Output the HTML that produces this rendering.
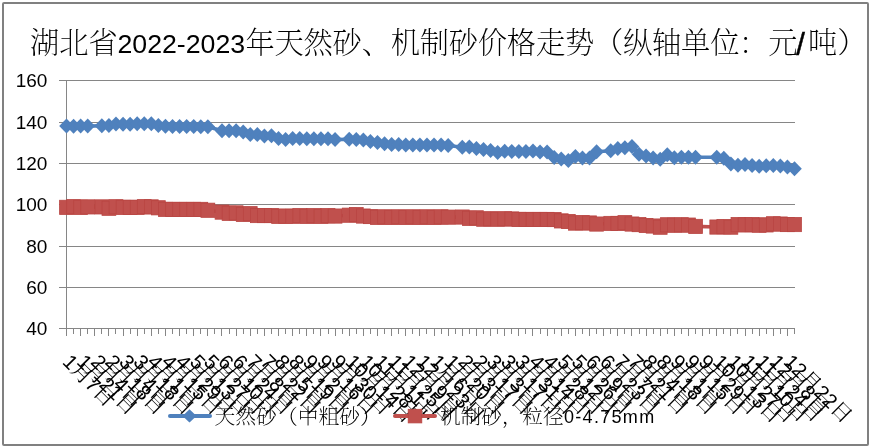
<!DOCTYPE html>
<html><head><meta charset="utf-8"><style>
html,body{margin:0;padding:0;background:#fff;}
body{width:887px;height:448px;overflow:hidden;position:relative;}
#box{position:absolute;left:2px;top:2px;width:867px;height:444px;box-sizing:border-box;border:2px solid #808080;border-radius:2px;}
svg{position:absolute;left:0;top:0;}
</style></head><body>
<div id="box"></div>
<svg width="887" height="448" viewBox="0 0 887 448">
<g id="title" fill="#000">
<text x="30" y="53.3" font-family="Liberation Serif, Noto Serif CJK SC, serif" font-weight="200" font-size="29.3">湖北省</text>
<text x="117.5" y="52.9" font-family="Liberation Sans, sans-serif" font-size="26.7">2022-2023</text>
<text x="245.5" y="53.3" font-family="Liberation Serif, Noto Serif CJK SC, serif" font-weight="200" font-size="29.3" textLength="552" lengthAdjust="spacing">年天然砂、机制砂价格走势（纵轴单位：元</text>
<text x="796.2" y="55.4" font-family="Liberation Sans, sans-serif" font-size="31" stroke="#000" stroke-width="0.5">/</text>
<text x="808" y="53.3" font-family="Liberation Serif, Noto Serif CJK SC, serif" font-weight="200" font-size="29.3">吨）</text>
</g>
<g id="chart">
<line x1="59" y1="80.5" x2="795" y2="80.5" stroke="#868686" stroke-width="1"/>
<line x1="59" y1="122.5" x2="795" y2="122.5" stroke="#868686" stroke-width="1"/>
<line x1="59" y1="163.5" x2="795" y2="163.5" stroke="#868686" stroke-width="1"/>
<line x1="59" y1="204.5" x2="795" y2="204.5" stroke="#868686" stroke-width="1"/>
<line x1="59" y1="246.5" x2="795" y2="246.5" stroke="#868686" stroke-width="1"/>
<line x1="59" y1="287.5" x2="795" y2="287.5" stroke="#868686" stroke-width="1"/>
<line x1="59" y1="328.5" x2="795" y2="328.5" stroke="#868686" stroke-width="1"/>
<line x1="66.5" y1="80" x2="66.5" y2="329" stroke="#868686" stroke-width="1"/>
<line x1="66.5" y1="328" x2="66.5" y2="336.0" stroke="#868686" stroke-width="1"/>
<line x1="73.5" y1="328" x2="73.5" y2="334.0" stroke="#868686" stroke-width="1"/>
<line x1="80.5" y1="328" x2="80.5" y2="336.0" stroke="#868686" stroke-width="1"/>
<line x1="87.5" y1="328" x2="87.5" y2="334.0" stroke="#868686" stroke-width="1"/>
<line x1="94.5" y1="328" x2="94.5" y2="336.0" stroke="#868686" stroke-width="1"/>
<line x1="101.5" y1="328" x2="101.5" y2="334.0" stroke="#868686" stroke-width="1"/>
<line x1="108.5" y1="328" x2="108.5" y2="336.0" stroke="#868686" stroke-width="1"/>
<line x1="115.5" y1="328" x2="115.5" y2="334.0" stroke="#868686" stroke-width="1"/>
<line x1="123.5" y1="328" x2="123.5" y2="336.0" stroke="#868686" stroke-width="1"/>
<line x1="130.5" y1="328" x2="130.5" y2="334.0" stroke="#868686" stroke-width="1"/>
<line x1="137.5" y1="328" x2="137.5" y2="336.0" stroke="#868686" stroke-width="1"/>
<line x1="144.5" y1="328" x2="144.5" y2="334.0" stroke="#868686" stroke-width="1"/>
<line x1="151.5" y1="328" x2="151.5" y2="336.0" stroke="#868686" stroke-width="1"/>
<line x1="158.5" y1="328" x2="158.5" y2="334.0" stroke="#868686" stroke-width="1"/>
<line x1="165.5" y1="328" x2="165.5" y2="336.0" stroke="#868686" stroke-width="1"/>
<line x1="172.5" y1="328" x2="172.5" y2="334.0" stroke="#868686" stroke-width="1"/>
<line x1="179.5" y1="328" x2="179.5" y2="336.0" stroke="#868686" stroke-width="1"/>
<line x1="186.5" y1="328" x2="186.5" y2="334.0" stroke="#868686" stroke-width="1"/>
<line x1="193.5" y1="328" x2="193.5" y2="336.0" stroke="#868686" stroke-width="1"/>
<line x1="200.5" y1="328" x2="200.5" y2="334.0" stroke="#868686" stroke-width="1"/>
<line x1="207.5" y1="328" x2="207.5" y2="336.0" stroke="#868686" stroke-width="1"/>
<line x1="214.5" y1="328" x2="214.5" y2="334.0" stroke="#868686" stroke-width="1"/>
<line x1="221.5" y1="328" x2="221.5" y2="336.0" stroke="#868686" stroke-width="1"/>
<line x1="229.5" y1="328" x2="229.5" y2="334.0" stroke="#868686" stroke-width="1"/>
<line x1="236.5" y1="328" x2="236.5" y2="336.0" stroke="#868686" stroke-width="1"/>
<line x1="243.5" y1="328" x2="243.5" y2="334.0" stroke="#868686" stroke-width="1"/>
<line x1="250.5" y1="328" x2="250.5" y2="336.0" stroke="#868686" stroke-width="1"/>
<line x1="257.5" y1="328" x2="257.5" y2="334.0" stroke="#868686" stroke-width="1"/>
<line x1="264.5" y1="328" x2="264.5" y2="336.0" stroke="#868686" stroke-width="1"/>
<line x1="271.5" y1="328" x2="271.5" y2="334.0" stroke="#868686" stroke-width="1"/>
<line x1="278.5" y1="328" x2="278.5" y2="336.0" stroke="#868686" stroke-width="1"/>
<line x1="285.5" y1="328" x2="285.5" y2="334.0" stroke="#868686" stroke-width="1"/>
<line x1="292.5" y1="328" x2="292.5" y2="336.0" stroke="#868686" stroke-width="1"/>
<line x1="299.5" y1="328" x2="299.5" y2="334.0" stroke="#868686" stroke-width="1"/>
<line x1="306.5" y1="328" x2="306.5" y2="336.0" stroke="#868686" stroke-width="1"/>
<line x1="313.5" y1="328" x2="313.5" y2="334.0" stroke="#868686" stroke-width="1"/>
<line x1="320.5" y1="328" x2="320.5" y2="336.0" stroke="#868686" stroke-width="1"/>
<line x1="328.5" y1="328" x2="328.5" y2="334.0" stroke="#868686" stroke-width="1"/>
<line x1="335.5" y1="328" x2="335.5" y2="336.0" stroke="#868686" stroke-width="1"/>
<line x1="342.5" y1="328" x2="342.5" y2="334.0" stroke="#868686" stroke-width="1"/>
<line x1="349.5" y1="328" x2="349.5" y2="336.0" stroke="#868686" stroke-width="1"/>
<line x1="356.5" y1="328" x2="356.5" y2="334.0" stroke="#868686" stroke-width="1"/>
<line x1="363.5" y1="328" x2="363.5" y2="336.0" stroke="#868686" stroke-width="1"/>
<line x1="370.5" y1="328" x2="370.5" y2="334.0" stroke="#868686" stroke-width="1"/>
<line x1="377.5" y1="328" x2="377.5" y2="336.0" stroke="#868686" stroke-width="1"/>
<line x1="384.5" y1="328" x2="384.5" y2="334.0" stroke="#868686" stroke-width="1"/>
<line x1="391.5" y1="328" x2="391.5" y2="336.0" stroke="#868686" stroke-width="1"/>
<line x1="398.5" y1="328" x2="398.5" y2="334.0" stroke="#868686" stroke-width="1"/>
<line x1="405.5" y1="328" x2="405.5" y2="336.0" stroke="#868686" stroke-width="1"/>
<line x1="412.5" y1="328" x2="412.5" y2="334.0" stroke="#868686" stroke-width="1"/>
<line x1="419.5" y1="328" x2="419.5" y2="336.0" stroke="#868686" stroke-width="1"/>
<line x1="426.5" y1="328" x2="426.5" y2="334.0" stroke="#868686" stroke-width="1"/>
<line x1="434.5" y1="328" x2="434.5" y2="336.0" stroke="#868686" stroke-width="1"/>
<line x1="441.5" y1="328" x2="441.5" y2="334.0" stroke="#868686" stroke-width="1"/>
<line x1="448.5" y1="328" x2="448.5" y2="336.0" stroke="#868686" stroke-width="1"/>
<line x1="455.5" y1="328" x2="455.5" y2="334.0" stroke="#868686" stroke-width="1"/>
<line x1="462.5" y1="328" x2="462.5" y2="336.0" stroke="#868686" stroke-width="1"/>
<line x1="469.5" y1="328" x2="469.5" y2="334.0" stroke="#868686" stroke-width="1"/>
<line x1="476.5" y1="328" x2="476.5" y2="336.0" stroke="#868686" stroke-width="1"/>
<line x1="483.5" y1="328" x2="483.5" y2="334.0" stroke="#868686" stroke-width="1"/>
<line x1="490.5" y1="328" x2="490.5" y2="336.0" stroke="#868686" stroke-width="1"/>
<line x1="497.5" y1="328" x2="497.5" y2="334.0" stroke="#868686" stroke-width="1"/>
<line x1="504.5" y1="328" x2="504.5" y2="336.0" stroke="#868686" stroke-width="1"/>
<line x1="511.5" y1="328" x2="511.5" y2="334.0" stroke="#868686" stroke-width="1"/>
<line x1="518.5" y1="328" x2="518.5" y2="336.0" stroke="#868686" stroke-width="1"/>
<line x1="525.5" y1="328" x2="525.5" y2="334.0" stroke="#868686" stroke-width="1"/>
<line x1="532.5" y1="328" x2="532.5" y2="336.0" stroke="#868686" stroke-width="1"/>
<line x1="540.5" y1="328" x2="540.5" y2="334.0" stroke="#868686" stroke-width="1"/>
<line x1="547.5" y1="328" x2="547.5" y2="336.0" stroke="#868686" stroke-width="1"/>
<line x1="554.5" y1="328" x2="554.5" y2="334.0" stroke="#868686" stroke-width="1"/>
<line x1="561.5" y1="328" x2="561.5" y2="336.0" stroke="#868686" stroke-width="1"/>
<line x1="568.5" y1="328" x2="568.5" y2="334.0" stroke="#868686" stroke-width="1"/>
<line x1="575.5" y1="328" x2="575.5" y2="336.0" stroke="#868686" stroke-width="1"/>
<line x1="582.5" y1="328" x2="582.5" y2="334.0" stroke="#868686" stroke-width="1"/>
<line x1="589.5" y1="328" x2="589.5" y2="336.0" stroke="#868686" stroke-width="1"/>
<line x1="596.5" y1="328" x2="596.5" y2="334.0" stroke="#868686" stroke-width="1"/>
<line x1="603.5" y1="328" x2="603.5" y2="336.0" stroke="#868686" stroke-width="1"/>
<line x1="610.5" y1="328" x2="610.5" y2="334.0" stroke="#868686" stroke-width="1"/>
<line x1="617.5" y1="328" x2="617.5" y2="336.0" stroke="#868686" stroke-width="1"/>
<line x1="624.5" y1="328" x2="624.5" y2="334.0" stroke="#868686" stroke-width="1"/>
<line x1="631.5" y1="328" x2="631.5" y2="336.0" stroke="#868686" stroke-width="1"/>
<line x1="639.5" y1="328" x2="639.5" y2="334.0" stroke="#868686" stroke-width="1"/>
<line x1="646.5" y1="328" x2="646.5" y2="336.0" stroke="#868686" stroke-width="1"/>
<line x1="653.5" y1="328" x2="653.5" y2="334.0" stroke="#868686" stroke-width="1"/>
<line x1="660.5" y1="328" x2="660.5" y2="336.0" stroke="#868686" stroke-width="1"/>
<line x1="667.5" y1="328" x2="667.5" y2="334.0" stroke="#868686" stroke-width="1"/>
<line x1="674.5" y1="328" x2="674.5" y2="336.0" stroke="#868686" stroke-width="1"/>
<line x1="681.5" y1="328" x2="681.5" y2="334.0" stroke="#868686" stroke-width="1"/>
<line x1="688.5" y1="328" x2="688.5" y2="336.0" stroke="#868686" stroke-width="1"/>
<line x1="695.5" y1="328" x2="695.5" y2="334.0" stroke="#868686" stroke-width="1"/>
<line x1="702.5" y1="328" x2="702.5" y2="336.0" stroke="#868686" stroke-width="1"/>
<line x1="709.5" y1="328" x2="709.5" y2="334.0" stroke="#868686" stroke-width="1"/>
<line x1="716.5" y1="328" x2="716.5" y2="336.0" stroke="#868686" stroke-width="1"/>
<line x1="723.5" y1="328" x2="723.5" y2="334.0" stroke="#868686" stroke-width="1"/>
<line x1="730.5" y1="328" x2="730.5" y2="336.0" stroke="#868686" stroke-width="1"/>
<line x1="737.5" y1="328" x2="737.5" y2="334.0" stroke="#868686" stroke-width="1"/>
<line x1="745.5" y1="328" x2="745.5" y2="336.0" stroke="#868686" stroke-width="1"/>
<line x1="752.5" y1="328" x2="752.5" y2="334.0" stroke="#868686" stroke-width="1"/>
<line x1="759.5" y1="328" x2="759.5" y2="336.0" stroke="#868686" stroke-width="1"/>
<line x1="766.5" y1="328" x2="766.5" y2="334.0" stroke="#868686" stroke-width="1"/>
<line x1="773.5" y1="328" x2="773.5" y2="336.0" stroke="#868686" stroke-width="1"/>
<line x1="780.5" y1="328" x2="780.5" y2="334.0" stroke="#868686" stroke-width="1"/>
<line x1="787.5" y1="328" x2="787.5" y2="336.0" stroke="#868686" stroke-width="1"/>
<line x1="794.5" y1="328" x2="794.5" y2="334.0" stroke="#868686" stroke-width="1"/>
<path d="M66.50 207.35 L73.57 206.70 L80.64 207.30 L87.70 206.90 L101.84 206.90 L108.91 208.25 L115.98 206.75 L123.04 207.30 L130.11 207.35 L137.18 207.35 L144.25 206.70 L151.32 206.90 L158.38 207.80 L165.45 209.35 L172.52 209.40 L179.59 209.40 L186.66 209.40 L193.72 209.40 L200.79 209.40 L207.86 210.25 L222.00 212.10 L229.06 213.30 L236.13 212.90 L243.20 214.40 L250.27 213.70 L257.33 215.55 L264.40 215.55 L271.47 215.55 L278.54 216.30 L285.61 216.10 L292.67 216.25 L299.74 215.65 L306.81 216.35 L313.88 215.65 L320.95 216.35 L328.01 215.65 L335.08 216.05 L349.22 215.20 L356.29 214.60 L363.35 216.05 L370.42 216.55 L377.49 217.35 L384.56 216.85 L391.63 217.35 L398.69 216.85 L405.76 217.35 L412.83 216.85 L419.90 217.35 L426.97 216.85 L434.03 217.35 L441.10 216.85 L448.17 217.15 L462.31 217.05 L469.37 218.35 L476.44 217.85 L483.51 219.20 L490.58 218.80 L497.65 219.20 L504.71 218.80 L511.78 219.00 L518.85 219.40 L525.92 219.45 L532.99 219.45 L540.05 219.45 L547.12 219.45 L554.19 219.55 L561.26 220.90 L568.33 221.50 L575.39 223.10 L582.46 222.70 L589.53 223.00 L596.60 224.05 L610.73 223.45 L617.80 223.45 L624.87 222.70 L631.94 224.05 L639.00 224.60 L646.07 225.50 L653.14 226.02 L660.21 227.20 L667.28 224.80 L674.34 225.20 L681.41 224.80 L688.48 225.10 L695.55 226.42 L716.75 227.05 L723.82 226.65 L730.89 227.15 L737.96 224.60 L745.02 224.90 L752.09 224.65 L759.16 225.20 L766.23 224.90 L773.30 223.80 L780.36 224.05 L787.43 224.55 L794.50 224.55" fill="none" stroke="#C0504D" stroke-width="3.6" stroke-linejoin="round" stroke-linecap="round"/>
<rect x="59.60" y="200.25" width="13.8" height="14.20" fill="#C0504D" stroke="#B94542" stroke-width="0.8"/>
<rect x="66.67" y="199.60" width="13.8" height="14.20" fill="#C0504D" stroke="#B94542" stroke-width="0.8"/>
<rect x="73.74" y="200.20" width="13.8" height="14.20" fill="#C0504D" stroke="#B94542" stroke-width="0.8"/>
<rect x="80.80" y="199.80" width="13.8" height="14.20" fill="#C0504D" stroke="#B94542" stroke-width="0.8"/>
<rect x="94.94" y="199.80" width="13.8" height="14.20" fill="#C0504D" stroke="#B94542" stroke-width="0.8"/>
<rect x="102.01" y="201.15" width="13.8" height="14.20" fill="#C0504D" stroke="#B94542" stroke-width="0.8"/>
<rect x="109.08" y="199.65" width="13.8" height="14.20" fill="#C0504D" stroke="#B94542" stroke-width="0.8"/>
<rect x="116.14" y="200.20" width="13.8" height="14.20" fill="#C0504D" stroke="#B94542" stroke-width="0.8"/>
<rect x="123.21" y="200.25" width="13.8" height="14.20" fill="#C0504D" stroke="#B94542" stroke-width="0.8"/>
<rect x="130.28" y="200.25" width="13.8" height="14.20" fill="#C0504D" stroke="#B94542" stroke-width="0.8"/>
<rect x="137.35" y="199.60" width="13.8" height="14.20" fill="#C0504D" stroke="#B94542" stroke-width="0.8"/>
<rect x="144.42" y="199.80" width="13.8" height="14.20" fill="#C0504D" stroke="#B94542" stroke-width="0.8"/>
<rect x="151.48" y="200.70" width="13.8" height="14.20" fill="#C0504D" stroke="#B94542" stroke-width="0.8"/>
<rect x="158.55" y="202.25" width="13.8" height="14.20" fill="#C0504D" stroke="#B94542" stroke-width="0.8"/>
<rect x="165.62" y="202.30" width="13.8" height="14.20" fill="#C0504D" stroke="#B94542" stroke-width="0.8"/>
<rect x="172.69" y="202.30" width="13.8" height="14.20" fill="#C0504D" stroke="#B94542" stroke-width="0.8"/>
<rect x="179.76" y="202.30" width="13.8" height="14.20" fill="#C0504D" stroke="#B94542" stroke-width="0.8"/>
<rect x="186.82" y="202.30" width="13.8" height="14.20" fill="#C0504D" stroke="#B94542" stroke-width="0.8"/>
<rect x="193.89" y="202.30" width="13.8" height="14.20" fill="#C0504D" stroke="#B94542" stroke-width="0.8"/>
<rect x="200.96" y="203.15" width="13.8" height="14.20" fill="#C0504D" stroke="#B94542" stroke-width="0.8"/>
<rect x="215.10" y="205.00" width="13.8" height="14.20" fill="#C0504D" stroke="#B94542" stroke-width="0.8"/>
<rect x="222.16" y="206.20" width="13.8" height="14.20" fill="#C0504D" stroke="#B94542" stroke-width="0.8"/>
<rect x="229.23" y="205.80" width="13.8" height="14.20" fill="#C0504D" stroke="#B94542" stroke-width="0.8"/>
<rect x="236.30" y="207.30" width="13.8" height="14.20" fill="#C0504D" stroke="#B94542" stroke-width="0.8"/>
<rect x="243.37" y="206.60" width="13.8" height="14.20" fill="#C0504D" stroke="#B94542" stroke-width="0.8"/>
<rect x="250.43" y="208.45" width="13.8" height="14.20" fill="#C0504D" stroke="#B94542" stroke-width="0.8"/>
<rect x="257.50" y="208.45" width="13.8" height="14.20" fill="#C0504D" stroke="#B94542" stroke-width="0.8"/>
<rect x="264.57" y="208.45" width="13.8" height="14.20" fill="#C0504D" stroke="#B94542" stroke-width="0.8"/>
<rect x="271.64" y="209.20" width="13.8" height="14.20" fill="#C0504D" stroke="#B94542" stroke-width="0.8"/>
<rect x="278.71" y="209.00" width="13.8" height="14.20" fill="#C0504D" stroke="#B94542" stroke-width="0.8"/>
<rect x="285.77" y="209.15" width="13.8" height="14.20" fill="#C0504D" stroke="#B94542" stroke-width="0.8"/>
<rect x="292.84" y="208.55" width="13.8" height="14.20" fill="#C0504D" stroke="#B94542" stroke-width="0.8"/>
<rect x="299.91" y="209.25" width="13.8" height="14.20" fill="#C0504D" stroke="#B94542" stroke-width="0.8"/>
<rect x="306.98" y="208.55" width="13.8" height="14.20" fill="#C0504D" stroke="#B94542" stroke-width="0.8"/>
<rect x="314.05" y="209.25" width="13.8" height="14.20" fill="#C0504D" stroke="#B94542" stroke-width="0.8"/>
<rect x="321.11" y="208.55" width="13.8" height="14.20" fill="#C0504D" stroke="#B94542" stroke-width="0.8"/>
<rect x="328.18" y="208.95" width="13.8" height="14.20" fill="#C0504D" stroke="#B94542" stroke-width="0.8"/>
<rect x="342.32" y="208.10" width="13.8" height="14.20" fill="#C0504D" stroke="#B94542" stroke-width="0.8"/>
<rect x="349.39" y="207.50" width="13.8" height="14.20" fill="#C0504D" stroke="#B94542" stroke-width="0.8"/>
<rect x="356.45" y="208.95" width="13.8" height="14.20" fill="#C0504D" stroke="#B94542" stroke-width="0.8"/>
<rect x="363.52" y="209.45" width="13.8" height="14.20" fill="#C0504D" stroke="#B94542" stroke-width="0.8"/>
<rect x="370.59" y="210.25" width="13.8" height="14.20" fill="#C0504D" stroke="#B94542" stroke-width="0.8"/>
<rect x="377.66" y="209.75" width="13.8" height="14.20" fill="#C0504D" stroke="#B94542" stroke-width="0.8"/>
<rect x="384.73" y="210.25" width="13.8" height="14.20" fill="#C0504D" stroke="#B94542" stroke-width="0.8"/>
<rect x="391.79" y="209.75" width="13.8" height="14.20" fill="#C0504D" stroke="#B94542" stroke-width="0.8"/>
<rect x="398.86" y="210.25" width="13.8" height="14.20" fill="#C0504D" stroke="#B94542" stroke-width="0.8"/>
<rect x="405.93" y="209.75" width="13.8" height="14.20" fill="#C0504D" stroke="#B94542" stroke-width="0.8"/>
<rect x="413.00" y="210.25" width="13.8" height="14.20" fill="#C0504D" stroke="#B94542" stroke-width="0.8"/>
<rect x="420.07" y="209.75" width="13.8" height="14.20" fill="#C0504D" stroke="#B94542" stroke-width="0.8"/>
<rect x="427.13" y="210.25" width="13.8" height="14.20" fill="#C0504D" stroke="#B94542" stroke-width="0.8"/>
<rect x="434.20" y="209.75" width="13.8" height="14.20" fill="#C0504D" stroke="#B94542" stroke-width="0.8"/>
<rect x="441.27" y="210.05" width="13.8" height="14.20" fill="#C0504D" stroke="#B94542" stroke-width="0.8"/>
<rect x="455.41" y="209.95" width="13.8" height="14.20" fill="#C0504D" stroke="#B94542" stroke-width="0.8"/>
<rect x="462.47" y="211.25" width="13.8" height="14.20" fill="#C0504D" stroke="#B94542" stroke-width="0.8"/>
<rect x="469.54" y="210.75" width="13.8" height="14.20" fill="#C0504D" stroke="#B94542" stroke-width="0.8"/>
<rect x="476.61" y="212.10" width="13.8" height="14.20" fill="#C0504D" stroke="#B94542" stroke-width="0.8"/>
<rect x="483.68" y="211.70" width="13.8" height="14.20" fill="#C0504D" stroke="#B94542" stroke-width="0.8"/>
<rect x="490.75" y="212.10" width="13.8" height="14.20" fill="#C0504D" stroke="#B94542" stroke-width="0.8"/>
<rect x="497.81" y="211.70" width="13.8" height="14.20" fill="#C0504D" stroke="#B94542" stroke-width="0.8"/>
<rect x="504.88" y="211.90" width="13.8" height="14.20" fill="#C0504D" stroke="#B94542" stroke-width="0.8"/>
<rect x="511.95" y="212.30" width="13.8" height="14.20" fill="#C0504D" stroke="#B94542" stroke-width="0.8"/>
<rect x="519.02" y="212.35" width="13.8" height="14.20" fill="#C0504D" stroke="#B94542" stroke-width="0.8"/>
<rect x="526.09" y="212.35" width="13.8" height="14.20" fill="#C0504D" stroke="#B94542" stroke-width="0.8"/>
<rect x="533.15" y="212.35" width="13.8" height="14.20" fill="#C0504D" stroke="#B94542" stroke-width="0.8"/>
<rect x="540.22" y="212.35" width="13.8" height="14.20" fill="#C0504D" stroke="#B94542" stroke-width="0.8"/>
<rect x="547.29" y="212.45" width="13.8" height="14.20" fill="#C0504D" stroke="#B94542" stroke-width="0.8"/>
<rect x="554.36" y="213.80" width="13.8" height="14.20" fill="#C0504D" stroke="#B94542" stroke-width="0.8"/>
<rect x="561.43" y="214.40" width="13.8" height="14.20" fill="#C0504D" stroke="#B94542" stroke-width="0.8"/>
<rect x="568.49" y="216.00" width="13.8" height="14.20" fill="#C0504D" stroke="#B94542" stroke-width="0.8"/>
<rect x="575.56" y="215.60" width="13.8" height="14.20" fill="#C0504D" stroke="#B94542" stroke-width="0.8"/>
<rect x="582.63" y="215.90" width="13.8" height="14.20" fill="#C0504D" stroke="#B94542" stroke-width="0.8"/>
<rect x="589.70" y="216.95" width="13.8" height="14.20" fill="#C0504D" stroke="#B94542" stroke-width="0.8"/>
<rect x="603.83" y="216.35" width="13.8" height="14.20" fill="#C0504D" stroke="#B94542" stroke-width="0.8"/>
<rect x="610.90" y="216.35" width="13.8" height="14.20" fill="#C0504D" stroke="#B94542" stroke-width="0.8"/>
<rect x="617.97" y="215.60" width="13.8" height="14.20" fill="#C0504D" stroke="#B94542" stroke-width="0.8"/>
<rect x="625.04" y="216.95" width="13.8" height="14.20" fill="#C0504D" stroke="#B94542" stroke-width="0.8"/>
<rect x="632.10" y="217.50" width="13.8" height="14.20" fill="#C0504D" stroke="#B94542" stroke-width="0.8"/>
<rect x="639.17" y="218.40" width="13.8" height="14.20" fill="#C0504D" stroke="#B94542" stroke-width="0.8"/>
<rect x="646.24" y="218.92" width="13.8" height="14.20" fill="#C0504D" stroke="#B94542" stroke-width="0.8"/>
<rect x="653.31" y="220.10" width="13.8" height="14.20" fill="#C0504D" stroke="#B94542" stroke-width="0.8"/>
<rect x="660.38" y="217.70" width="13.8" height="14.20" fill="#C0504D" stroke="#B94542" stroke-width="0.8"/>
<rect x="667.44" y="218.10" width="13.8" height="14.20" fill="#C0504D" stroke="#B94542" stroke-width="0.8"/>
<rect x="674.51" y="217.70" width="13.8" height="14.20" fill="#C0504D" stroke="#B94542" stroke-width="0.8"/>
<rect x="681.58" y="218.00" width="13.8" height="14.20" fill="#C0504D" stroke="#B94542" stroke-width="0.8"/>
<rect x="688.65" y="219.32" width="13.8" height="14.20" fill="#C0504D" stroke="#B94542" stroke-width="0.8"/>
<rect x="709.85" y="219.95" width="13.8" height="14.20" fill="#C0504D" stroke="#B94542" stroke-width="0.8"/>
<rect x="716.92" y="219.55" width="13.8" height="14.20" fill="#C0504D" stroke="#B94542" stroke-width="0.8"/>
<rect x="723.99" y="220.05" width="13.8" height="14.20" fill="#C0504D" stroke="#B94542" stroke-width="0.8"/>
<rect x="731.06" y="217.50" width="13.8" height="14.20" fill="#C0504D" stroke="#B94542" stroke-width="0.8"/>
<rect x="738.12" y="217.80" width="13.8" height="14.20" fill="#C0504D" stroke="#B94542" stroke-width="0.8"/>
<rect x="745.19" y="217.55" width="13.8" height="14.20" fill="#C0504D" stroke="#B94542" stroke-width="0.8"/>
<rect x="752.26" y="218.10" width="13.8" height="14.20" fill="#C0504D" stroke="#B94542" stroke-width="0.8"/>
<rect x="759.33" y="217.80" width="13.8" height="14.20" fill="#C0504D" stroke="#B94542" stroke-width="0.8"/>
<rect x="766.40" y="216.70" width="13.8" height="14.20" fill="#C0504D" stroke="#B94542" stroke-width="0.8"/>
<rect x="773.46" y="216.95" width="13.8" height="14.20" fill="#C0504D" stroke="#B94542" stroke-width="0.8"/>
<rect x="780.53" y="217.45" width="13.8" height="14.20" fill="#C0504D" stroke="#B94542" stroke-width="0.8"/>
<rect x="787.60" y="217.45" width="13.8" height="14.20" fill="#C0504D" stroke="#B94542" stroke-width="0.8"/>
<path d="M66.50 126.10 L73.57 126.30 L80.64 126.10 L87.70 126.10 L101.84 125.80 L108.91 125.60 L115.98 124.00 L123.04 124.30 L130.11 124.20 L137.18 123.70 L144.25 123.70 L151.32 123.70 L158.38 125.50 L165.45 126.30 L172.52 126.50 L179.59 126.50 L186.66 126.50 L193.72 126.60 L200.79 126.70 L207.86 126.70 L222.00 130.80 L229.06 130.80 L236.13 130.80 L243.20 131.90 L250.27 134.60 L257.33 134.60 L264.40 135.90 L271.47 135.80 L278.54 138.60 L285.61 139.50 L292.67 138.60 L299.74 138.60 L306.81 138.70 L313.88 138.70 L320.95 138.70 L328.01 138.70 L335.08 139.60 L349.22 139.20 L356.29 139.60 L363.35 139.90 L370.42 141.40 L377.49 142.50 L384.56 143.70 L391.63 144.60 L398.69 144.60 L405.76 145.00 L412.83 145.10 L419.90 145.10 L426.97 145.10 L434.03 145.10 L441.10 145.10 L448.17 145.50 L462.31 147.20 L469.37 147.10 L476.44 148.60 L483.51 149.60 L490.58 150.40 L497.65 152.50 L504.71 151.30 L511.78 151.40 L518.85 151.40 L525.92 151.40 L532.99 151.00 L540.05 151.90 L547.12 151.90 L554.19 157.50 L561.26 158.90 L568.33 160.60 L575.39 156.60 L582.46 158.10 L589.53 158.00 L596.60 151.70 L610.73 150.80 L617.80 148.40 L624.87 147.70 L631.94 146.60 L639.00 154.30 L646.07 155.90 L653.14 158.10 L660.21 159.30 L667.28 154.80 L674.34 157.80 L681.41 157.20 L688.48 157.20 L695.55 157.20 L716.75 157.30 L723.82 158.20 L730.89 164.10 L737.96 165.30 L745.02 164.60 L752.09 165.60 L759.16 166.30 L766.23 165.80 L773.30 165.60 L780.36 166.00 L787.43 166.90 L794.50 168.70" fill="none" stroke="#4F81BD" stroke-width="3.6" stroke-linejoin="round" stroke-linecap="round"/>
<path d="M66.50 118.60 L73.80 126.10 L66.50 133.60 L59.20 126.10 Z" fill="#4F81BD"/>
<path d="M73.57 118.80 L80.87 126.30 L73.57 133.80 L66.27 126.30 Z" fill="#4F81BD"/>
<path d="M80.64 118.60 L87.94 126.10 L80.64 133.60 L73.34 126.10 Z" fill="#4F81BD"/>
<path d="M87.70 118.60 L95.00 126.10 L87.70 133.60 L80.40 126.10 Z" fill="#4F81BD"/>
<path d="M101.84 118.30 L109.14 125.80 L101.84 133.30 L94.54 125.80 Z" fill="#4F81BD"/>
<path d="M108.91 118.10 L116.21 125.60 L108.91 133.10 L101.61 125.60 Z" fill="#4F81BD"/>
<path d="M115.98 116.50 L123.28 124.00 L115.98 131.50 L108.68 124.00 Z" fill="#4F81BD"/>
<path d="M123.04 116.80 L130.34 124.30 L123.04 131.80 L115.74 124.30 Z" fill="#4F81BD"/>
<path d="M130.11 116.70 L137.41 124.20 L130.11 131.70 L122.81 124.20 Z" fill="#4F81BD"/>
<path d="M137.18 116.20 L144.48 123.70 L137.18 131.20 L129.88 123.70 Z" fill="#4F81BD"/>
<path d="M144.25 116.20 L151.55 123.70 L144.25 131.20 L136.95 123.70 Z" fill="#4F81BD"/>
<path d="M151.32 116.20 L158.62 123.70 L151.32 131.20 L144.02 123.70 Z" fill="#4F81BD"/>
<path d="M158.38 118.00 L165.68 125.50 L158.38 133.00 L151.08 125.50 Z" fill="#4F81BD"/>
<path d="M165.45 118.80 L172.75 126.30 L165.45 133.80 L158.15 126.30 Z" fill="#4F81BD"/>
<path d="M172.52 119.00 L179.82 126.50 L172.52 134.00 L165.22 126.50 Z" fill="#4F81BD"/>
<path d="M179.59 119.00 L186.89 126.50 L179.59 134.00 L172.29 126.50 Z" fill="#4F81BD"/>
<path d="M186.66 119.00 L193.96 126.50 L186.66 134.00 L179.36 126.50 Z" fill="#4F81BD"/>
<path d="M193.72 119.10 L201.02 126.60 L193.72 134.10 L186.42 126.60 Z" fill="#4F81BD"/>
<path d="M200.79 119.20 L208.09 126.70 L200.79 134.20 L193.49 126.70 Z" fill="#4F81BD"/>
<path d="M207.86 119.20 L215.16 126.70 L207.86 134.20 L200.56 126.70 Z" fill="#4F81BD"/>
<path d="M222.00 123.30 L229.30 130.80 L222.00 138.30 L214.70 130.80 Z" fill="#4F81BD"/>
<path d="M229.06 123.30 L236.36 130.80 L229.06 138.30 L221.76 130.80 Z" fill="#4F81BD"/>
<path d="M236.13 123.30 L243.43 130.80 L236.13 138.30 L228.83 130.80 Z" fill="#4F81BD"/>
<path d="M243.20 124.40 L250.50 131.90 L243.20 139.40 L235.90 131.90 Z" fill="#4F81BD"/>
<path d="M250.27 127.10 L257.57 134.60 L250.27 142.10 L242.97 134.60 Z" fill="#4F81BD"/>
<path d="M257.33 127.10 L264.63 134.60 L257.33 142.10 L250.03 134.60 Z" fill="#4F81BD"/>
<path d="M264.40 128.40 L271.70 135.90 L264.40 143.40 L257.10 135.90 Z" fill="#4F81BD"/>
<path d="M271.47 128.30 L278.77 135.80 L271.47 143.30 L264.17 135.80 Z" fill="#4F81BD"/>
<path d="M278.54 131.10 L285.84 138.60 L278.54 146.10 L271.24 138.60 Z" fill="#4F81BD"/>
<path d="M285.61 132.00 L292.91 139.50 L285.61 147.00 L278.31 139.50 Z" fill="#4F81BD"/>
<path d="M292.67 131.10 L299.97 138.60 L292.67 146.10 L285.37 138.60 Z" fill="#4F81BD"/>
<path d="M299.74 131.10 L307.04 138.60 L299.74 146.10 L292.44 138.60 Z" fill="#4F81BD"/>
<path d="M306.81 131.20 L314.11 138.70 L306.81 146.20 L299.51 138.70 Z" fill="#4F81BD"/>
<path d="M313.88 131.20 L321.18 138.70 L313.88 146.20 L306.58 138.70 Z" fill="#4F81BD"/>
<path d="M320.95 131.20 L328.25 138.70 L320.95 146.20 L313.65 138.70 Z" fill="#4F81BD"/>
<path d="M328.01 131.20 L335.31 138.70 L328.01 146.20 L320.71 138.70 Z" fill="#4F81BD"/>
<path d="M335.08 132.10 L342.38 139.60 L335.08 147.10 L327.78 139.60 Z" fill="#4F81BD"/>
<path d="M349.22 131.70 L356.52 139.20 L349.22 146.70 L341.92 139.20 Z" fill="#4F81BD"/>
<path d="M356.29 132.10 L363.59 139.60 L356.29 147.10 L348.99 139.60 Z" fill="#4F81BD"/>
<path d="M363.35 132.40 L370.65 139.90 L363.35 147.40 L356.05 139.90 Z" fill="#4F81BD"/>
<path d="M370.42 133.90 L377.72 141.40 L370.42 148.90 L363.12 141.40 Z" fill="#4F81BD"/>
<path d="M377.49 135.00 L384.79 142.50 L377.49 150.00 L370.19 142.50 Z" fill="#4F81BD"/>
<path d="M384.56 136.20 L391.86 143.70 L384.56 151.20 L377.26 143.70 Z" fill="#4F81BD"/>
<path d="M391.63 137.10 L398.93 144.60 L391.63 152.10 L384.33 144.60 Z" fill="#4F81BD"/>
<path d="M398.69 137.10 L405.99 144.60 L398.69 152.10 L391.39 144.60 Z" fill="#4F81BD"/>
<path d="M405.76 137.50 L413.06 145.00 L405.76 152.50 L398.46 145.00 Z" fill="#4F81BD"/>
<path d="M412.83 137.60 L420.13 145.10 L412.83 152.60 L405.53 145.10 Z" fill="#4F81BD"/>
<path d="M419.90 137.60 L427.20 145.10 L419.90 152.60 L412.60 145.10 Z" fill="#4F81BD"/>
<path d="M426.97 137.60 L434.27 145.10 L426.97 152.60 L419.67 145.10 Z" fill="#4F81BD"/>
<path d="M434.03 137.60 L441.33 145.10 L434.03 152.60 L426.73 145.10 Z" fill="#4F81BD"/>
<path d="M441.10 137.60 L448.40 145.10 L441.10 152.60 L433.80 145.10 Z" fill="#4F81BD"/>
<path d="M448.17 138.00 L455.47 145.50 L448.17 153.00 L440.87 145.50 Z" fill="#4F81BD"/>
<path d="M462.31 139.70 L469.61 147.20 L462.31 154.70 L455.01 147.20 Z" fill="#4F81BD"/>
<path d="M469.37 139.60 L476.67 147.10 L469.37 154.60 L462.07 147.10 Z" fill="#4F81BD"/>
<path d="M476.44 141.10 L483.74 148.60 L476.44 156.10 L469.14 148.60 Z" fill="#4F81BD"/>
<path d="M483.51 142.10 L490.81 149.60 L483.51 157.10 L476.21 149.60 Z" fill="#4F81BD"/>
<path d="M490.58 142.90 L497.88 150.40 L490.58 157.90 L483.28 150.40 Z" fill="#4F81BD"/>
<path d="M497.65 145.00 L504.95 152.50 L497.65 160.00 L490.35 152.50 Z" fill="#4F81BD"/>
<path d="M504.71 143.80 L512.01 151.30 L504.71 158.80 L497.41 151.30 Z" fill="#4F81BD"/>
<path d="M511.78 143.90 L519.08 151.40 L511.78 158.90 L504.48 151.40 Z" fill="#4F81BD"/>
<path d="M518.85 143.90 L526.15 151.40 L518.85 158.90 L511.55 151.40 Z" fill="#4F81BD"/>
<path d="M525.92 143.90 L533.22 151.40 L525.92 158.90 L518.62 151.40 Z" fill="#4F81BD"/>
<path d="M532.99 143.50 L540.29 151.00 L532.99 158.50 L525.69 151.00 Z" fill="#4F81BD"/>
<path d="M540.05 144.40 L547.35 151.90 L540.05 159.40 L532.75 151.90 Z" fill="#4F81BD"/>
<path d="M547.12 144.40 L554.42 151.90 L547.12 159.40 L539.82 151.90 Z" fill="#4F81BD"/>
<path d="M554.19 150.00 L561.49 157.50 L554.19 165.00 L546.89 157.50 Z" fill="#4F81BD"/>
<path d="M561.26 151.40 L568.56 158.90 L561.26 166.40 L553.96 158.90 Z" fill="#4F81BD"/>
<path d="M568.33 153.10 L575.63 160.60 L568.33 168.10 L561.03 160.60 Z" fill="#4F81BD"/>
<path d="M575.39 149.10 L582.69 156.60 L575.39 164.10 L568.09 156.60 Z" fill="#4F81BD"/>
<path d="M582.46 150.60 L589.76 158.10 L582.46 165.60 L575.16 158.10 Z" fill="#4F81BD"/>
<path d="M589.53 150.50 L596.83 158.00 L589.53 165.50 L582.23 158.00 Z" fill="#4F81BD"/>
<path d="M596.60 144.20 L603.90 151.70 L596.60 159.20 L589.30 151.70 Z" fill="#4F81BD"/>
<path d="M610.73 143.30 L618.03 150.80 L610.73 158.30 L603.43 150.80 Z" fill="#4F81BD"/>
<path d="M617.80 140.90 L625.10 148.40 L617.80 155.90 L610.50 148.40 Z" fill="#4F81BD"/>
<path d="M624.87 140.20 L632.17 147.70 L624.87 155.20 L617.57 147.70 Z" fill="#4F81BD"/>
<path d="M631.94 139.10 L639.24 146.60 L631.94 154.10 L624.64 146.60 Z" fill="#4F81BD"/>
<path d="M639.00 146.80 L646.30 154.30 L639.00 161.80 L631.70 154.30 Z" fill="#4F81BD"/>
<path d="M646.07 148.40 L653.37 155.90 L646.07 163.40 L638.77 155.90 Z" fill="#4F81BD"/>
<path d="M653.14 150.60 L660.44 158.10 L653.14 165.60 L645.84 158.10 Z" fill="#4F81BD"/>
<path d="M660.21 151.80 L667.51 159.30 L660.21 166.80 L652.91 159.30 Z" fill="#4F81BD"/>
<path d="M667.28 147.30 L674.58 154.80 L667.28 162.30 L659.98 154.80 Z" fill="#4F81BD"/>
<path d="M674.34 150.30 L681.64 157.80 L674.34 165.30 L667.04 157.80 Z" fill="#4F81BD"/>
<path d="M681.41 149.70 L688.71 157.20 L681.41 164.70 L674.11 157.20 Z" fill="#4F81BD"/>
<path d="M688.48 149.70 L695.78 157.20 L688.48 164.70 L681.18 157.20 Z" fill="#4F81BD"/>
<path d="M695.55 149.70 L702.85 157.20 L695.55 164.70 L688.25 157.20 Z" fill="#4F81BD"/>
<path d="M716.75 149.80 L724.05 157.30 L716.75 164.80 L709.45 157.30 Z" fill="#4F81BD"/>
<path d="M723.82 150.70 L731.12 158.20 L723.82 165.70 L716.52 158.20 Z" fill="#4F81BD"/>
<path d="M730.89 156.60 L738.19 164.10 L730.89 171.60 L723.59 164.10 Z" fill="#4F81BD"/>
<path d="M737.96 157.80 L745.26 165.30 L737.96 172.80 L730.66 165.30 Z" fill="#4F81BD"/>
<path d="M745.02 157.10 L752.32 164.60 L745.02 172.10 L737.72 164.60 Z" fill="#4F81BD"/>
<path d="M752.09 158.10 L759.39 165.60 L752.09 173.10 L744.79 165.60 Z" fill="#4F81BD"/>
<path d="M759.16 158.80 L766.46 166.30 L759.16 173.80 L751.86 166.30 Z" fill="#4F81BD"/>
<path d="M766.23 158.30 L773.53 165.80 L766.23 173.30 L758.93 165.80 Z" fill="#4F81BD"/>
<path d="M773.30 158.10 L780.60 165.60 L773.30 173.10 L766.00 165.60 Z" fill="#4F81BD"/>
<path d="M780.36 158.50 L787.66 166.00 L780.36 173.50 L773.06 166.00 Z" fill="#4F81BD"/>
<path d="M787.43 159.40 L794.73 166.90 L787.43 174.40 L780.13 166.90 Z" fill="#4F81BD"/>
<path d="M794.50 161.20 L801.80 168.70 L794.50 176.20 L787.20 168.70 Z" fill="#4F81BD"/>
</g>
<g id="ylab" font-family="Liberation Sans, sans-serif" font-size="19" fill="#000"><text x="47.4" y="87.1" text-anchor="end">160</text>
<text x="47.4" y="129.1" text-anchor="end">140</text>
<text x="47.4" y="170.1" text-anchor="end">120</text>
<text x="47.4" y="211.1" text-anchor="end">100</text>
<text x="47.4" y="253.1" text-anchor="end">80</text>
<text x="47.4" y="294.1" text-anchor="end">60</text>
<text x="47.4" y="335.1" text-anchor="end">40</text></g>
<g id="xlab" font-weight="400" font-family="Liberation Sans, Noto Serif CJK SC, serif" font-size="20.5" fill="#000"><text transform="translate(61.50 363.00) rotate(45)">1月7日</text>
<text transform="translate(75.64 363.00) rotate(45)">1月21日</text>
<text transform="translate(89.77 363.00) rotate(45)">2月4日</text>
<text transform="translate(103.91 363.00) rotate(45)">2月18日</text>
<text transform="translate(118.04 363.00) rotate(45)">3月4日</text>
<text transform="translate(132.18 363.00) rotate(45)">3月18日</text>
<text transform="translate(146.32 363.00) rotate(45)">4月1日</text>
<text transform="translate(160.45 363.00) rotate(45)">4月15日</text>
<text transform="translate(174.59 363.00) rotate(45)">4月29日</text>
<text transform="translate(188.72 363.00) rotate(45)">5月13日</text>
<text transform="translate(202.86 363.00) rotate(45)">5月27日</text>
<text transform="translate(217.00 363.00) rotate(45)">6月10日</text>
<text transform="translate(231.13 363.00) rotate(45)">6月24日</text>
<text transform="translate(245.27 363.00) rotate(45)">7月8日</text>
<text transform="translate(259.40 363.00) rotate(45)">7月22日</text>
<text transform="translate(273.54 363.00) rotate(45)">8月5日</text>
<text transform="translate(287.67 363.00) rotate(45)">8月19日</text>
<text transform="translate(301.81 363.00) rotate(45)">9月2日</text>
<text transform="translate(315.95 363.00) rotate(45)">9月16日</text>
<text transform="translate(330.08 363.00) rotate(45)">9月30日</text>
<text transform="translate(344.22 363.00) rotate(45)">10月14日</text>
<text transform="translate(358.35 363.00) rotate(45)">10月28日</text>
<text transform="translate(372.49 363.00) rotate(45)">11月11日</text>
<text transform="translate(386.63 363.00) rotate(45)">11月25日</text>
<text transform="translate(400.76 363.00) rotate(45)">12月9日</text>
<text transform="translate(414.90 363.00) rotate(45)">12月23日</text>
<text transform="translate(429.03 363.00) rotate(45)">1月6日</text>
<text transform="translate(443.17 363.00) rotate(45)">1月20日</text>
<text transform="translate(457.31 363.00) rotate(45)">2月3日</text>
<text transform="translate(471.44 363.00) rotate(45)">2月17日</text>
<text transform="translate(485.58 363.00) rotate(45)">3月3日</text>
<text transform="translate(499.71 363.00) rotate(45)">3月17日</text>
<text transform="translate(513.85 363.00) rotate(45)">3月31日</text>
<text transform="translate(527.99 363.00) rotate(45)">4月14日</text>
<text transform="translate(542.12 363.00) rotate(45)">4月28日</text>
<text transform="translate(556.26 363.00) rotate(45)">5月12日</text>
<text transform="translate(570.39 363.00) rotate(45)">5月26日</text>
<text transform="translate(584.53 363.00) rotate(45)">6月9日</text>
<text transform="translate(598.67 363.00) rotate(45)">6月23日</text>
<text transform="translate(612.80 363.00) rotate(45)">7月7日</text>
<text transform="translate(626.94 363.00) rotate(45)">7月21日</text>
<text transform="translate(641.07 363.00) rotate(45)">8月4日</text>
<text transform="translate(655.21 363.00) rotate(45)">8月18日</text>
<text transform="translate(669.34 363.00) rotate(45)">9月1日</text>
<text transform="translate(683.48 363.00) rotate(45)">9月15日</text>
<text transform="translate(697.62 363.00) rotate(45)">9月29日</text>
<text transform="translate(711.75 363.00) rotate(45)">10月13日</text>
<text transform="translate(725.89 363.00) rotate(45)">10月27日</text>
<text transform="translate(740.02 363.00) rotate(45)">11月10日</text>
<text transform="translate(754.16 363.00) rotate(45)">11月24日</text>
<text transform="translate(768.30 363.00) rotate(45)">12月8日</text>
<text transform="translate(782.43 363.00) rotate(45)">12月22日</text></g>
<g id="legend">
<line x1="170" y1="416" x2="210" y2="416" stroke="#4F81BD" stroke-width="4" stroke-linecap="round"/>
<path d="M189.5 409.2 L196.5 416 L189.5 422.6 L182.5 416 Z" fill="#4F81BD"/>
<line x1="395" y1="416" x2="435" y2="416" stroke="#C0504D" stroke-width="4" stroke-linecap="round"/>
<rect x="408.2" y="409.3" width="13.6" height="13.6" fill="#C0504D" stroke="#B94542" stroke-width="0.8"/>
<text x="214.5" y="423.5" font-family="Liberation Serif, Noto Serif CJK SC, serif" font-weight="200" font-size="20.8" fill="#000">天然砂（中粗砂）</text>
<text x="440" y="423.5" font-family="Liberation Serif, Noto Serif CJK SC, serif" font-weight="200" font-size="20.6" fill="#000">机制砂，粒径</text>
<text x="564" y="422.9" font-family="Liberation Sans, sans-serif" font-size="18" letter-spacing="1.3" fill="#000">0-4.75mm</text>
</g>
</svg>
</body></html>
